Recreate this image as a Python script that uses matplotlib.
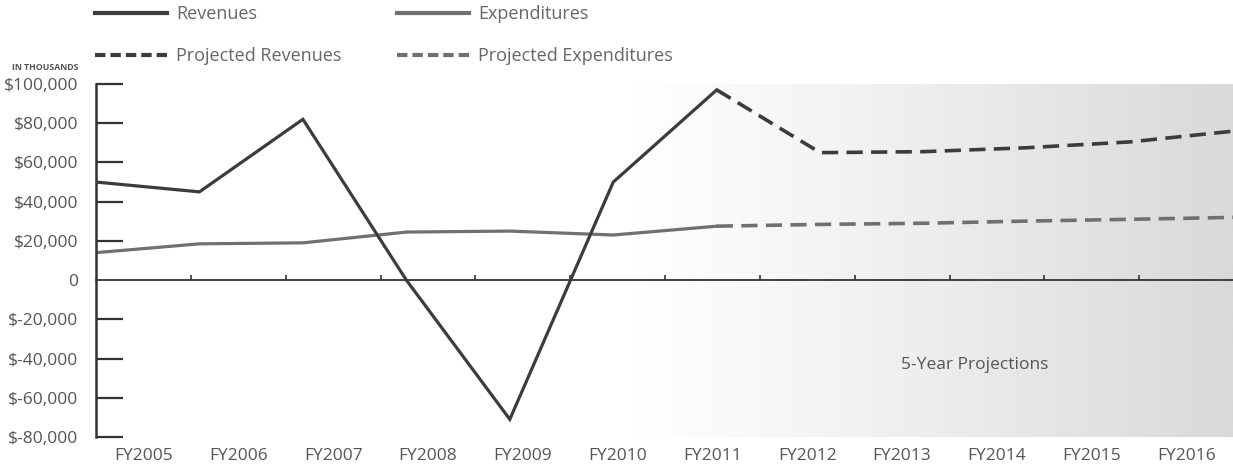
import matplotlib
matplotlib.use("Agg")
import matplotlib.pyplot as plt
import numpy as np
from matplotlib.lines import Line2D
from matplotlib.colors import LinearSegmentedColormap

# ---- data ----
years = ["FY2005", "FY2006", "FY2007", "FY2008", "FY2009", "FY2010",
         "FY2011", "FY2012", "FY2013", "FY2014", "FY2015", "FY2016"]
revenues = [50000, 45000, 82000, 0, -71000, 50000, 97000]
expenditures = [14000, 18500, 19000, 24500, 25000, 23000, 27500]
proj_revenues = [97000, 65000, 65500, 67500, 70500, 76000]
proj_expenditures = [27500, 28400, 29000, 30100, 31000, 32000]
yticks = [100000, 80000, 60000, 40000, 20000, 0, -20000, -40000, -60000, -80000]
ytick_labels = ["$100,000", "$80,000", "$60,000", "$40,000", "$20,000", "0",
                "$-20,000", "$-40,000", "$-60,000", "$-80,000"]

FONT = ["Open Sans", "DejaVu Sans"]
plt.rcParams['font.family'] = FONT

W, H = 1233, 473
fig = plt.figure(figsize=(W / 100, H / 100), dpi=100)
fig.patch.set_facecolor("white")
left, right, top, bottom = 96, 1234, 84, 437
ax = fig.add_axes([left / W, 1 - bottom / H, (right - left) / W, (bottom - top) / H])
ax.set_facecolor("none")

n = len(years)
step = n / (n - 1)  # data points span full width, labels are centred in bands
x_hist = np.arange(len(revenues)) * step
x_proj = (np.arange(len(proj_revenues)) + len(revenues) - 1) * step

ax.set_xlim(0, n)
ax.set_ylim(-80000, 100000)

# projection background gradient
grad = np.linspace(0, 1, 400) ** 1.1
cmap = LinearSegmentedColormap.from_list("g", ["#ffffff", "#d9d9d9"])
ax.imshow(grad[np.newaxis, :], extent=(5.6, n, -80000, 100000), aspect="auto",
          cmap=cmap, vmin=0, vmax=1, zorder=0)

rev_c = "#3c3c3c"
exp_c = "#707070"
ax.plot(x_hist, revenues, color=rev_c, lw=2.3, zorder=3, solid_joinstyle="miter")
ax.plot(x_hist, expenditures, color=exp_c, lw=2.3, zorder=2)
ax.plot(x_proj, proj_revenues, color=rev_c, lw=2.6, dashes=(4.5, 2.3), zorder=3)
ax.plot(x_proj, proj_expenditures, color=exp_c, lw=2.6, dashes=(4.5, 2.3), zorder=2)

# axes styling
for s in ["top", "right"]:
    ax.spines[s].set_visible(False)
ax.spines["left"].set_color("#333333")
ax.spines["left"].set_linewidth(1.8)
ax.spines["bottom"].set_position(("data", 0))
ax.spines["bottom"].set_color("#333333")
ax.spines["bottom"].set_linewidth(1.3)

ax.set_yticks(yticks)
ax.set_yticklabels(ytick_labels)
ax.tick_params(axis="y", direction="in", length=19.4, width=1.6, color="#333333",
               pad=13, labelsize=12.5, labelcolor="#555555")
for t, v in zip(ax.yaxis.get_major_ticks(), yticks):
    if v == 0:
        t.tick1line.set_visible(False)

ax.set_xticks([])
ax.set_xticks(np.arange(1, n), minor=True)
ax.tick_params(axis="x", which="minor", direction="in", length=3.6, width=1.2,
               color="#333333")

sec = ax.secondary_xaxis("bottom")
sec.set_xticks(np.arange(n) + 0.5)
sec.set_xticklabels(years)
sec.tick_params(length=0, pad=8, labelsize=12.5, labelcolor="#555555")
sec.spines["bottom"].set_visible(False)

ax.text(1 - (1234 - 975) / (right - left), (437 - 365) / (bottom - top),
        "5-Year Projections", transform=ax.transAxes, ha="center", va="center",
        fontsize=12.5, color="#555555")

fig.text(78 / W, 1 - 68 / H, "IN THOUSANDS", ha="right", va="center",
         fontsize=6.3, color="#555555", fontweight="bold")

# legends
h_rev = Line2D([], [], color=rev_c, lw=3.0)
h_prev = Line2D([], [], color=rev_c, lw=3.0, dashes=(2.5, 1.2))
h_exp = Line2D([], [], color=exp_c, lw=3.0)
h_pexp = Line2D([], [], color=exp_c, lw=3.0, dashes=(2.5, 1.2))

common = dict(frameon=False, fontsize=13, handlelength=4.0, handletextpad=0.5,
              labelspacing=1.35, borderpad=0, borderaxespad=0, loc="upper left",
              bbox_transform=fig.transFigure, labelcolor="#666666")
leg1 = fig.legend([h_rev, h_prev], ["Revenues", "Projected Revenues"],
                  bbox_to_anchor=(95 / W, 1 - 5 / H), **common)
leg2 = fig.legend([h_exp, h_pexp], ["Expenditures", "Projected Expenditures"],
                  bbox_to_anchor=(397 / W, 1 - 5 / H), **common)

fig.savefig("out.png", dpi=100, facecolor="white")
